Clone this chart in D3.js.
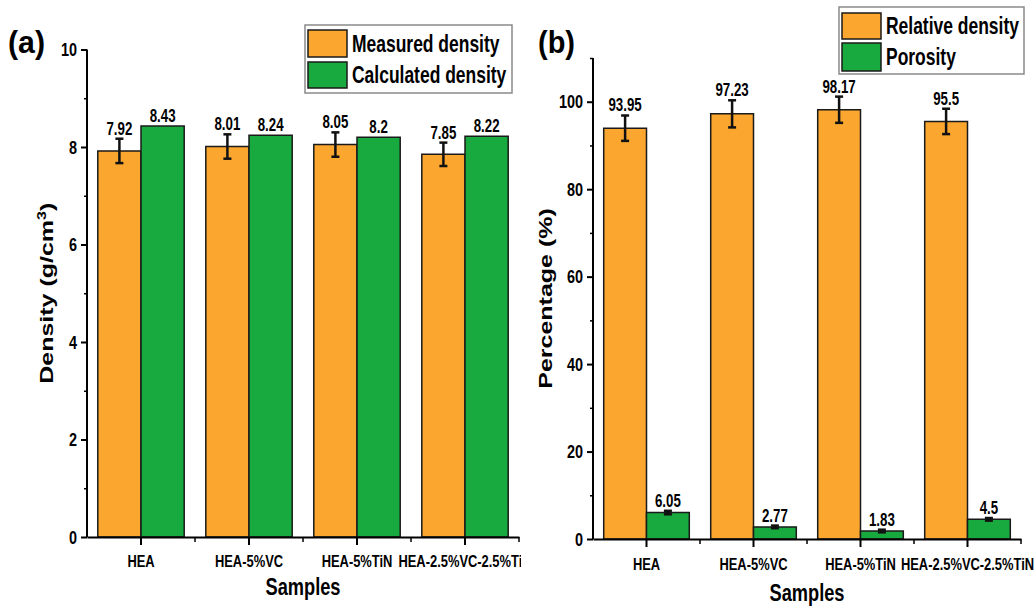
<!DOCTYPE html>
<html>
<head>
<meta charset="utf-8">
<script src="https://cdn.jsdelivr.net/npm/d3@7"></script>
<style>
  html, body { margin: 0; padding: 0; background: #fff; }
  svg * { vector-effect: non-scaling-stroke; }
  text { font-family: "Liberation Sans", Arial, sans-serif; font-weight: bold; fill: #000; }
</style>
</head>
<body>
<svg id="chart" width="1035" height="609"></svg>
<script>
// Sample names shared by both panels
const categories = ["HEA", "HEA-5%VC", "HEA-5%TiN", "HEA-2.5%VC-2.5%TiN"];

// Panel (a): densities in g/cm3
const measuredDensity = [7.92, 8.01, 8.05, 7.85];
const measuredDensityErr = [0.25, 0.25, 0.25, 0.24];
const calculatedDensity = [8.43, 8.24, 8.2, 8.22];
const densityMajorTicks = [0, 2, 4, 6, 8, 10];
const densityMinorTicks = [1, 3, 5, 7, 9];

// Panel (b): percentages
const relativeDensity = [93.95, 97.23, 98.17, 95.5];
const relativeDensityErr = [2.9, 3.1, 3.0, 2.9];
const porosity = [6.05, 2.77, 1.83, 4.5];
const porosityErr = [0.4, 0.3, 0.3, 0.3];
const percentMajorTicks = [0, 20, 40, 60, 80, 100];
const percentMinorTicks = [10, 30, 50, 70, 90, 110];

const ORANGE = "#FAA62F";
const GREEN = "#18AA3E";

// The artwork uses a narrow typeface: everything is laid out in a wider
// virtual space and squeezed horizontally by K.
const K = 0.76;
const vx = x => x / K;

const svg = d3.select("#chart");
svg.append("defs").append("clipPath").attr("id", "clipA")
  .append("rect").attr("x", 0).attr("y", 0).attr("width", vx(521)).attr("height", 609);

const root = svg.append("g").attr("transform", `scale(${K},1)`);

function drawPanel(p) {
  const g = root.append("g");
  if (p.clip) g.attr("clip-path", `url(#${p.clip})`);

  const x = d3.scaleBand().domain(categories).range([vx(p.x0), vx(p.x1)]).padding(0);
  const sub = d3.scaleBand().domain([0, 1]).range([x.bandwidth() * 0.1, x.bandwidth() * 0.9]).padding(0);
  const y = d3.scaleLinear().domain(p.yDomain).range([p.yBottom, p.yTop]);

  const series = [
    { values: p.s1, err: p.e1, color: ORANGE, idx: 0 },
    { values: p.s2, err: p.e2, color: GREEN, idx: 1 }
  ];

  series.forEach(s => {
    const bars = g.append("g");
    bars.selectAll("rect").data(categories).join("rect")
      .attr("x", c => x(c) + sub(s.idx))
      .attr("width", sub.bandwidth())
      .attr("y", (c, i) => y(s.values[i]))
      .attr("height", (c, i) => y(0) - y(s.values[i]))
      .attr("fill", s.color)
      .attr("stroke", "#1a1a1a")
      .attr("stroke-width", 1.5);

    if (s.err) {
      const eb = g.append("g").attr("stroke", "#111").attr("stroke-width", 2.5);
      categories.forEach((c, i) => {
        const cx = x(c) + sub(s.idx) + sub.bandwidth() / 2;
        const lo = y(s.values[i] - s.err[i]), hi = y(s.values[i] + s.err[i]);
        eb.append("line").attr("x1", cx).attr("x2", cx).attr("y1", lo).attr("y2", hi);
        eb.append("line").attr("x1", cx - vx(4)).attr("x2", cx + vx(4)).attr("y1", lo).attr("y2", lo);
        eb.append("line").attr("x1", cx - vx(4)).attr("x2", cx + vx(4)).attr("y1", hi).attr("y2", hi);
      });
    }

    g.append("g").selectAll("text").data(categories).join("text")
      .attr("x", c => x(c) + sub(s.idx) + sub.bandwidth() / 2)
      .attr("y", (c, i) => y(s.values[i] + (s.err ? s.err[i] : 0)) - 4)
      .attr("text-anchor", "middle")
      .attr("font-size", 17.5)
      .text((c, i) => String(s.values[i]));
  });

  // Y axis: labelled major ticks plus short minor ticks
  const yAxis = g.append("g").attr("transform", `translate(${vx(p.x0)},0)`)
    .call(d3.axisLeft(y).tickValues(p.major).tickSize(vx(6)).tickSizeOuter(0).tickPadding(vx(4)).tickFormat(d3.format("d")));
  yAxis.select(".domain").remove();
  yAxis.append("line").attr("x1", 0).attr("x2", 0).attr("y1", p.yTop).attr("y2", p.yBottom)
    .attr("stroke", "#000").attr("stroke-width", 2);
  yAxis.selectAll(".tick line").attr("stroke-width", 2);
  yAxis.selectAll("text").attr("font-size", 19).attr("font-family", null);
  g.append("g").attr("transform", `translate(${vx(p.x0)},0)`)
    .call(d3.axisLeft(y).tickValues(p.minor).tickSize(vx(3)).tickSizeOuter(0).tickFormat(""))
    .call(a => a.select(".domain").remove())
    .selectAll(".tick line").attr("stroke-width", 1.5);

  // X axis: category ticks plus minor ticks at band edges
  const xAxis = g.append("g").attr("transform", `translate(0,${p.yBottom})`)
    .call(d3.axisBottom(x).tickSize(8).tickSizeOuter(0).tickPadding(p.xPad));
  xAxis.select(".domain").attr("stroke-width", 2);
  xAxis.selectAll(".tick line").attr("stroke-width", 2);
  xAxis.selectAll("text").attr("font-size", 17).attr("font-family", null);
  const minorX = g.append("g").attr("transform", `translate(0,${p.yBottom})`);
  categories.forEach(c => {
    const xe = x(c) + x.bandwidth();
    minorX.append("line").attr("x1", xe).attr("x2", xe).attr("y1", 0).attr("y2", 5)
      .attr("stroke", "#000").attr("stroke-width", 1.5);
  });

  // Axis titles
  const yt = g.append("text")
    .attr("transform", `translate(${vx(p.yTitleX)},${(p.yTop + p.yBottom) / 2}) rotate(-90)`)
    .attr("text-anchor", "middle").attr("font-size", 25);
  p.yTitle.forEach(part => {
    const t = yt.append("tspan").text(part.t);
    if (part.sup) t.attr("font-size", 16).attr("dy", -9);
    if (part.after) t.attr("dy", 9);
  });
  g.append("text").attr("x", vx((p.x0 + p.x1) / 2)).attr("y", p.xTitleY)
    .attr("text-anchor", "middle").attr("font-size", 24).text("Samples");

  // Panel letter
  g.append("text").attr("x", vx(p.letterX)).attr("y", 53)
    .attr("font-size", 31).attr("textLength", vx(37)).attr("lengthAdjust", "spacingAndGlyphs")
    .text(p.letter);

  // Legend
  const L = p.legend;
  const lg = g.append("g");
  lg.append("rect").attr("x", vx(L.x0)).attr("y", L.y0).attr("width", vx(L.x1 - L.x0)).attr("height", L.y1 - L.y0)
    .attr("fill", "#fff").attr("stroke", "#8a8a8a").attr("stroke-width", 1.5);
  L.rows.forEach((r, i) => {
    lg.append("rect").attr("x", vx(L.sx0)).attr("y", r[0]).attr("width", vx(L.sx1 - L.sx0)).attr("height", r[1] - r[0])
      .attr("fill", i === 0 ? ORANGE : GREEN).attr("stroke", "#1a1a1a").attr("stroke-width", 1.5);
    lg.append("text").attr("x", vx(L.tx)).attr("y", (r[0] + r[1]) / 2 + 8.2)
      .attr("font-size", 23).text(L.names[i]);
  });
}

drawPanel({
  clip: "clipA",
  x0: 87, x1: 519, yDomain: [0, 10], yBottom: 537, yTop: 49.5,
  s1: measuredDensity, e1: measuredDensityErr, s2: calculatedDensity, e2: null,
  major: densityMajorTicks, minor: densityMinorTicks, xPad: 10,
  yTitleX: 53, yTitle: [{ t: "Density (g/cm" }, { t: "3", sup: true }, { t: ")", after: true }],
  xTitleY: 595, letter: "(a)", letterX: 8,
  legend: { x0: 305, x1: 512, y0: 25, y1: 93, sx0: 308, sx1: 347, tx: 352,
    rows: [[30, 57], [62, 88]], names: ["Measured density", "Calculated density"] }
});

drawPanel({
  clip: null,
  x0: 593, x1: 1021, yDomain: [0, 110], yBottom: 539, yTop: 58,
  s1: relativeDensity, e1: relativeDensityErr, s2: porosity, e2: porosityErr,
  major: percentMajorTicks, minor: percentMinorTicks, xPad: 11,
  yTitleX: 552, yTitle: [{ t: "Percentage (%)" }],
  xTitleY: 601, letter: "(b)", letterX: 538,
  legend: { x0: 839, x1: 1024, y0: 7, y1: 74, sx0: 842, sx1: 881, tx: 886,
    rows: [[13, 39], [43, 71]], names: ["Relative density", "Porosity"] }
});
</script>
</body>
</html>
